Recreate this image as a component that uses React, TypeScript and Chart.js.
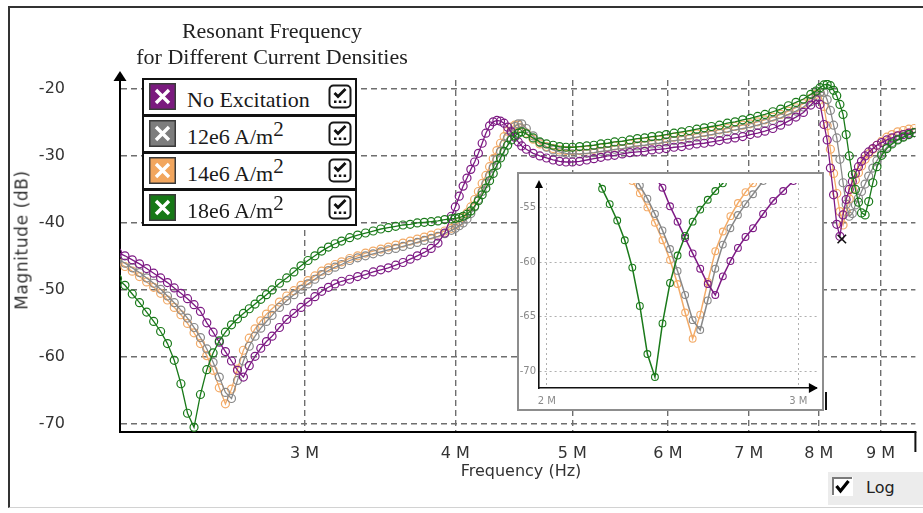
import React, { useEffect, useRef } from 'react';
import { Chart, registerables } from 'chart.js';

Chart.register(...registerables);

// ---------------- data (frequency in MHz, magnitude in dB) ----------------
const freqMHz = [
  2.10, 2.13, 2.16, 2.19, 2.22, 2.25, 2.28, 2.31, 2.34, 2.37,
  2.40, 2.43, 2.46, 2.49, 2.52, 2.55, 2.58, 2.61, 2.64, 2.67,
  2.70, 2.73, 2.76, 2.79, 2.82, 2.86, 2.90, 2.94, 2.98, 3.02,
  3.06, 3.10, 3.14, 3.18, 3.22, 3.27, 3.32, 3.37, 3.42, 3.47,
  3.52, 3.57, 3.62, 3.67, 3.72, 3.77, 3.82, 3.87, 3.92, 3.97,
  4.00, 4.03, 4.06, 4.09, 4.12, 4.15, 4.18, 4.21, 4.24, 4.27,
  4.30, 4.33, 4.36, 4.39, 4.42, 4.45, 4.48, 4.51, 4.54, 4.58,
  4.64, 4.70, 4.76, 4.82, 4.88, 4.94, 5.00, 5.07, 5.14, 5.21,
  5.28, 5.35, 5.42, 5.50, 5.58, 5.66, 5.74, 5.82, 5.90, 5.98,
  6.07, 6.16, 6.25, 6.34, 6.43, 6.52, 6.62, 6.72, 6.82, 6.92,
  7.02, 7.12, 7.22, 7.33, 7.44, 7.55, 7.66, 7.77, 7.88, 7.96,
  8.02, 8.08, 8.13, 8.18, 8.23, 8.28, 8.33, 8.38, 8.43, 8.48,
  8.53, 8.58, 8.63, 8.68, 8.74, 8.80, 8.87, 8.94, 9.02, 9.11,
  9.20, 9.30, 9.40, 9.50, 9.60, 9.70,
];

const noExcitation = [
  -44.4, -44.9, -45.5, -46.1, -46.8, -47.5, -48.2, -48.9, -49.7, -50.5,
  -51.3, -52.2, -53.2, -54.9, -56.3, -57.8, -59.2, -60.6, -62.0, -63.0,
  -61.3, -59.9, -58.7, -57.7, -56.9, -55.6, -54.4, -53.5, -52.6, -51.8,
  -51.0, -50.2, -49.6, -49.1, -48.7, -48.4, -48.0, -47.7, -47.3, -47.0,
  -46.7, -46.3, -45.9, -45.4, -44.9, -44.4, -43.8, -43.0, -41.5, -39.0,
  -37.6, -36.0, -34.5, -33.3, -32.0, -30.9, -29.6, -28.1, -26.6, -25.5,
  -24.9, -24.7, -24.8, -25.1, -25.7, -26.4, -27.2, -27.9, -28.5, -29.0,
  -29.6, -30.0, -30.3, -30.6, -30.8, -30.9, -30.9, -30.8, -30.6, -30.4,
  -30.2, -30.0, -29.9, -29.7, -29.5, -29.4, -29.3, -29.1, -29.0, -28.9,
  -28.7, -28.6, -28.4, -28.2, -28.1, -27.9, -27.7, -27.5, -27.3, -27.1,
  -26.8, -26.6, -26.3, -25.9, -25.4, -24.8, -24.2, -23.5, -22.4, -21.6,
  -22.3, -25.3, -27.6, -31.8, -35.8, -40.2, -42.0, -38.8, -36.5, -35.0,
  -33.8, -32.6, -31.6, -30.8, -30.0, -29.4, -28.9, -28.4, -28.0, -27.6,
  -27.3, -27.0, -26.8, -26.6, -26.5, -26.4,
];

const density12e6 = [
  -45.4, -46.0, -46.7, -47.4, -48.2, -49.0, -49.9, -50.9, -51.9, -53.0,
  -54.2, -55.6, -57.1, -58.8, -60.8, -63.0, -65.3, -66.2, -63.5, -60.6,
  -58.4, -56.9, -55.7, -54.7, -53.8, -52.6, -51.6, -50.7, -49.9, -49.1,
  -48.4, -47.7, -47.1, -46.6, -46.2, -45.6, -45.2, -44.9, -44.6, -44.3,
  -44.0, -43.8, -43.5, -43.2, -42.9, -42.6, -42.3, -42.0, -41.6, -41.1,
  -40.8, -40.4, -40.0, -39.4, -38.6, -37.6, -36.5, -35.3, -34.1, -32.9,
  -31.7, -30.5, -29.3, -28.2, -27.2, -26.3, -25.6, -25.2, -25.2, -25.9,
  -27.0, -28.0, -28.7, -29.1, -29.4, -29.6, -29.7, -29.7, -29.6, -29.5,
  -29.3, -29.2, -29.0, -28.9, -28.7, -28.5, -28.4, -28.2, -28.1, -27.9,
  -27.7, -27.6, -27.4, -27.2, -27.0, -26.8, -26.6, -26.4, -26.1, -25.9,
  -25.7, -25.4, -25.1, -24.7, -24.3, -23.8, -23.3, -22.7, -21.9, -21.1,
  -20.5, -20.5, -21.6, -23.2, -25.4, -27.3, -30.5, -34.0, -37.2, -39.0,
  -38.6, -37.3, -36.3, -35.3, -34.2, -33.0, -31.8, -30.7, -29.6, -28.7,
  -28.0, -27.5, -27.1, -26.8, -26.5, -26.3,
];

const density14e6 = [
  -45.9, -46.5, -47.2, -48.0, -48.8, -49.6, -50.5, -51.5, -52.6, -53.7,
  -55.0, -56.4, -58.0, -59.8, -62.0, -64.6, -67.0, -64.8, -61.8, -59.0,
  -57.2, -55.8, -54.6, -53.6, -52.8, -51.8, -50.9, -50.1, -49.3, -48.6,
  -47.9, -47.2, -46.7, -46.2, -45.8, -45.3, -44.9, -44.5, -44.2, -43.9,
  -43.6, -43.3, -43.0, -42.7, -42.4, -42.1, -41.8, -41.5, -41.2, -40.8,
  -40.3, -39.8, -39.2, -38.5, -37.6, -36.5, -35.3, -34.1, -32.9, -31.6,
  -30.4, -29.2, -28.1, -27.1, -26.3, -25.7, -25.4, -25.4, -25.9, -26.6,
  -27.5, -28.2, -28.6, -28.9, -29.1, -29.2, -29.2, -29.2, -29.1, -29.0,
  -28.8, -28.7, -28.5, -28.4, -28.2, -28.0, -27.9, -27.7, -27.6, -27.4,
  -27.2, -27.1, -26.9, -26.7, -26.5, -26.3, -26.1, -25.9, -25.6, -25.4,
  -25.2, -24.9, -24.6, -24.2, -23.8, -23.3, -22.8, -22.2, -21.4, -20.8,
  -20.6, -22.6, -25.5, -29.0, -32.6, -35.6, -38.3, -40.3, -38.3, -36.4,
  -34.9, -33.6, -32.5, -31.5, -30.5, -29.7, -29.0, -28.4, -27.8, -27.2,
  -26.8, -26.4, -26.2, -26.0, -25.9, -25.8,
];

const density18e6 = [
  -48.3, -49.3, -50.6, -51.9, -53.3, -54.7, -56.2, -58.0, -60.5, -64.0,
  -68.4, -70.5, -65.6, -61.9, -59.4, -57.6, -56.3, -55.2, -54.3, -53.5,
  -52.8, -52.1, -51.4, -50.7, -50.0, -49.0, -48.2, -47.3, -46.4, -45.6,
  -44.9, -44.2, -43.6, -43.1, -42.7, -42.2, -41.8, -41.5, -41.2, -40.9,
  -40.7, -40.5, -40.3, -40.2, -40.0, -39.9, -39.8, -39.7, -39.5, -39.4,
  -39.3, -39.2, -39.0, -38.7, -38.2, -37.5, -36.7, -35.8, -34.8, -33.7,
  -32.6, -31.4, -30.3, -29.3, -28.4, -27.6, -27.0, -26.6, -26.4, -26.7,
  -27.3, -27.9, -28.2, -28.4, -28.6, -28.7, -28.7, -28.6, -28.5, -28.4,
  -28.2, -28.1, -27.9, -27.8, -27.6, -27.4, -27.3, -27.1, -27.0, -26.8,
  -26.6, -26.4, -26.2, -26.0, -25.8, -25.6, -25.4, -25.1, -24.9, -24.6,
  -24.4, -24.1, -23.8, -23.4, -23.0, -22.5, -22.0, -21.5, -20.8, -20.3,
  -19.8, -19.4, -19.3, -19.5, -20.2, -21.0, -22.3, -23.8, -26.8, -30.0,
  -32.8, -35.0, -36.9, -38.5, -38.8, -36.8, -34.0, -31.6, -29.9, -28.9,
  -28.2, -27.6, -27.2, -26.8, -26.5, -26.2,
];

const seriesNames = ['No Excitation', '12e6 A/m', '14e6 A/m', '18e6 A/m'];
const seriesSuperscripts = ['', '2', '2', '2'];
const seriesValues = [noExcitation, density12e6, density14e6, density18e6];
const lineColors = ['#7d1a84', '#888888', '#f3ab68', '#1a7a1a'];
const swatchColors = ['#7a1a7e', '#7d7d7d', '#f2a65e', '#167816'];

// cursor marker
const cursorFreqMHz = [8.36];
const cursorMag = [-42.4];

// axes
const xTickMHz = [3, 4, 5, 6, 7, 8, 9];
const xTickLabels = ['3 M', '4 M', '5 M', '6 M', '7 M', '8 M', '9 M'];
const yTickValues = [-70, -60, -50, -40, -30, -20];
const yTickLabels = ['-70', '-60', '-50', '-40', '-30', '-20'];
const insetXTickMHz = [2, 3];
const insetXTickLabels = ['2 M', '3 M'];
const insetYTickValues = [-70, -65, -60, -55];
const insetYTickLabels = ['-70', '-65', '-60', '-55'];

const SANS = '"DejaVu Sans", Verdana, sans-serif';
const SERIF = '"Liberation Serif", "Times New Roman", serif';

Chart.defaults.font.family = SANS;

function buildSeriesDatasets(radius: number, lineWidth: number, pointWidth: number) {
  const drawOrder = [3, 0, 1, 2]; // first = drawn on top
  return drawOrder.map((k) => ({
    label: seriesNames[k],
    data: freqMHz.map((f, i) => ({ x: f * 1e6, y: seriesValues[k][i] })),
    borderColor: lineColors[k],
    borderWidth: lineWidth,
    pointRadius: radius,
    pointBorderWidth: pointWidth,
    pointBorderColor: lineColors[k],
    pointBackgroundColor: 'rgba(255,255,255,0)',
    pointStyle: 'circle',
    tension: 0,
    fill: false,
  }));
}

const mainArrowPlugin = {
  id: 'mainArrows',
  afterDraw(chart: any) {
    const { ctx, chartArea: a } = chart;
    ctx.save();
    ctx.fillStyle = '#000';
    ctx.beginPath();
    ctx.moveTo(a.left, a.top - 9);
    ctx.lineTo(a.left - 6.5, a.top + 1);
    ctx.lineTo(a.left + 6.5, a.top + 1);
    ctx.closePath();
    ctx.fill();
    ctx.strokeStyle = '#111';
    ctx.lineWidth = 2;
    ctx.beginPath();
    ctx.moveTo(a.right, a.bottom);
    ctx.lineTo(a.right, a.bottom + 20);
    ctx.stroke();
    ctx.restore();
  },
};

const insetArrowPlugin = {
  id: 'insetArrows',
  afterDraw(chart: any) {
    const { ctx, chartArea: a } = chart;
    ctx.save();
    ctx.fillStyle = '#000';
    ctx.beginPath();
    ctx.moveTo(a.left, a.top - 3);
    ctx.lineTo(a.left - 4, a.top + 5);
    ctx.lineTo(a.left + 4, a.top + 5);
    ctx.closePath();
    ctx.fill();
    ctx.beginPath();
    ctx.moveTo(a.right + 1, a.bottom);
    ctx.lineTo(a.right - 8, a.bottom - 5);
    ctx.lineTo(a.right - 8, a.bottom + 5);
    ctx.closePath();
    ctx.fill();
    ctx.restore();
  },
};

function CheckIcon() {
  return (
    <svg width="24" height="25" viewBox="0 0 24 25">
      <rect x="1.5" y="1.5" width="21" height="22" rx="4" ry="4" fill="#fff" stroke="#1a1a1a" strokeWidth="2" />
      <path d="M6.5 9 L10 12.5 L17.5 5" fill="none" stroke="#111" strokeWidth="2.8" />
      <rect x="6" y="16.5" width="2.5" height="2.5" fill="#111" />
      <rect x="10.8" y="16.5" width="2.5" height="2.5" fill="#111" />
      <rect x="15.6" y="16.5" width="2.5" height="2.5" fill="#111" />
    </svg>
  );
}

function Swatch({ color }: { color: string }) {
  return (
    <svg width="27" height="27" viewBox="0 0 27 27">
      <rect x="0.75" y="0.75" width="25.5" height="25.5" fill={color} stroke="#3a3a3a" strokeWidth="1.5" />
      <path d="M7 7 L20 20 M20 7 L7 20" stroke="#fff" strokeWidth="3.4" />
    </svg>
  );
}

export default function App() {
  const mainRef = useRef<HTMLCanvasElement>(null);
  const insetRef = useRef<HTMLCanvasElement>(null);

  useEffect(() => {
    const mainDatasets: any[] = [
      {
        label: 'cursor',
        data: cursorFreqMHz.map((f, i) => ({ x: f * 1e6, y: cursorMag[i] })),
        showLine: false,
        pointStyle: 'crossRot',
        pointRadius: 6,
        pointBorderWidth: 1.6,
        pointBorderColor: '#111',
        borderColor: '#111',
      },
      ...buildSeriesDatasets(4, 1.3, 1.2),
    ];

    const main = new Chart(mainRef.current as HTMLCanvasElement, {
      type: 'line',
      data: { datasets: mainDatasets },
      options: {
        animation: false,
        responsive: false,
        events: [],
        layout: { padding: { left: 0, top: 80, right: 2, bottom: 0 } },
        plugins: { legend: { display: false }, tooltip: { enabled: false }, title: { display: false } },
        scales: {
          x: {
            type: 'logarithmic',
            min: 2.11e6,
            max: 9.62e6,
            afterBuildTicks: (s: any) => {
              s.ticks = xTickMHz.map((v) => ({ value: v * 1e6 }));
            },
            afterFit: (s: any) => {
              s.height = 81;
            },
            ticks: {
              callback: (_v: any, i: number) => xTickLabels[i],
              autoSkip: false,
              maxRotation: 0,
              minRotation: 0,
              padding: 12,
              color: '#333',
              font: { size: 16, family: SANS },
            },
            grid: { color: '#6e6e6e', lineWidth: 1.4, drawTicks: false },
            border: { display: true, color: '#000', width: 2, dash: [6, 4] },
          },
          y: {
            type: 'linear',
            min: -71.2,
            max: -18.66,
            afterBuildTicks: (s: any) => {
              s.ticks = yTickValues.map((v) => ({ value: v }));
            },
            afterFit: (s: any) => {
              s.width = 120;
            },
            ticks: {
              callback: (v: any) => yTickLabels[yTickValues.indexOf(Number(v))],
              padding: 55,
              color: '#333',
              font: { size: 16, family: SANS },
            },
            grid: { color: '#6e6e6e', lineWidth: 1.4, drawTicks: false },
            border: { display: true, color: '#000', width: 2, dash: [6, 4] },
          },
        },
      } as any,
      plugins: [mainArrowPlugin],
    } as any);

    const inset = new Chart(insetRef.current as HTMLCanvasElement, {
      type: 'line',
      data: { datasets: buildSeriesDatasets(3.4, 1.5, 1.1) as any[] },
      options: {
        animation: false,
        responsive: false,
        events: [],
        layout: { padding: { left: 0, top: 4, right: 1, bottom: 0 } },
        plugins: { legend: { display: false }, tooltip: { enabled: false } },
        scales: {
          x: {
            type: 'linear',
            min: 1.969e6,
            max: 3.074e6,
            afterBuildTicks: (s: any) => {
              s.ticks = insetXTickMHz.map((v) => ({ value: v * 1e6 }));
            },
            afterFit: (s: any) => {
              s.height = 21;
            },
            ticks: {
              callback: (_v: any, i: number) => insetXTickLabels[i],
              autoSkip: false,
              maxRotation: 0,
              padding: 7,
              color: '#8a8a8a',
              font: { size: 10, family: SANS },
            },
            grid: { color: '#b0b0b0', lineWidth: 1, drawTicks: false },
            border: { display: true, color: '#111', width: 1.6, dash: [2, 3] },
          },
          y: {
            type: 'linear',
            min: -71.5,
            max: -52.77,
            afterBuildTicks: (s: any) => {
              s.ticks = insetYTickValues.map((v) => ({ value: v }));
            },
            afterFit: (s: any) => {
              s.width = 20;
            },
            ticks: {
              callback: (v: any) => insetYTickLabels[insetYTickValues.indexOf(Number(v))],
              padding: 3,
              color: '#8a8a8a',
              font: { size: 10, family: SANS },
            },
            grid: { color: '#b0b0b0', lineWidth: 1, drawTicks: false },
            border: { display: true, color: '#111', width: 1.6, dash: [2, 3] },
          },
        },
      } as any,
      plugins: [insetArrowPlugin],
    } as any);

    return () => {
      main.destroy();
      inset.destroy();
    };
  }, []);

  return (
    <div
      style={{
        position: 'fixed',
        left: 0,
        top: 0,
        width: 923,
        height: 513,
        background: '#fff',
        overflow: 'hidden',
        fontFamily: SANS,
      }}
    >
      {/* outer frame */}
      <div
        style={{
          position: 'absolute',
          left: 8,
          top: 6,
          width: 940,
          height: 499,
          borderLeft: '2px solid #333',
          borderTop: '2px solid #333',
          borderBottom: '1px solid #d2d2d2',
        }}
      />
      <canvas ref={mainRef} width={923} height={513} style={{ position: 'absolute', left: 0, top: 0 }} />

      {/* chart title */}
      <div
        style={{
          position: 'absolute',
          left: 122,
          top: 18,
          width: 300,
          textAlign: 'center',
          fontFamily: SERIF,
          fontSize: 22,
          lineHeight: '26px',
          color: '#222',
          whiteSpace: 'nowrap',
        }}
      >
        <div>Resonant Frequency</div>
        <div>for Different Current Densities</div>
      </div>

      {/* legend */}
      <div
        style={{
          position: 'absolute',
          left: 142,
          top: 78,
          width: 211,
          border: '2px solid #111',
          background: '#fff',
        }}
      >
        {seriesNames.map((name, k) => (
          <div
            key={name}
            style={{
              position: 'relative',
              height: k === 3 ? 33 : 34,
              borderBottom: k === 3 ? 'none' : '3px solid #111',
            }}
          >
            <div style={{ position: 'absolute', left: 5, top: 3, width: 27, height: 27 }}>
              <Swatch color={swatchColors[k]} />
            </div>
            <div
              style={{
                position: 'absolute',
                left: 43,
                top: 3,
                lineHeight: '34px',
                fontFamily: SERIF,
                fontSize: 22,
                color: '#1a1a1a',
                whiteSpace: 'nowrap',
              }}
            >
              {name}
              {seriesSuperscripts[k] ? (
                <span style={{ position: 'relative', top: -8, fontSize: 21 }}>{seriesSuperscripts[k]}</span>
              ) : null}
            </div>
            <div style={{ position: 'absolute', left: 184, top: 4, width: 24, height: 25 }}>
              <CheckIcon />
            </div>
          </div>
        ))}
      </div>

      {/* axis titles */}
      <div
        style={{
          position: 'absolute',
          left: 22,
          top: 240,
          transform: 'translate(-50%, -50%) rotate(-90deg)',
          whiteSpace: 'nowrap',
          fontSize: 17,
          letterSpacing: 0.6,
          lineHeight: '17px',
          color: '#333',
        }}
      >
        Magnitude (dB)
      </div>
      <div
        style={{
          position: 'absolute',
          left: 521,
          top: 471,
          transform: 'translate(-50%, -50%)',
          whiteSpace: 'nowrap',
          fontSize: 16,
          lineHeight: '16px',
          color: '#333',
        }}
      >
        Frequency (Hz)
      </div>

      {/* inset */}
      <div
        style={{
          position: 'absolute',
          left: 517,
          top: 172,
          width: 303,
          height: 235,
          border: '2px solid #8d8d8d',
          background: '#fff',
        }}
      >
        <canvas ref={insetRef} width={303} height={235} style={{ display: 'block' }} />
      </div>
      <div style={{ position: 'absolute', left: 825, top: 392, width: 2, height: 18, background: '#111' }} />

      {/* Log checkbox */}
      <div style={{ position: 'absolute', left: 828, top: 472, width: 95, height: 33, background: '#ececec' }}>
        <svg width="21" height="19" viewBox="0 0 21 19" style={{ position: 'absolute', left: 4, top: 5 }}>
          <rect x="0" y="0" width="21" height="19" fill="#fff" />
          <path d="M1 18 L1 1 L20 1" fill="none" stroke="#7a7a7a" strokeWidth="2" />
          <path d="M4.5 9 L8.5 14 L16.5 4" fill="none" stroke="#000" strokeWidth="3.2" />
        </svg>
        <span
          style={{
            position: 'absolute',
            left: 38,
            top: 8,
            fontSize: 16,
            lineHeight: '16px',
            color: '#222',
          }}
        >
          Log
        </span>
      </div>
    </div>
  );
}
